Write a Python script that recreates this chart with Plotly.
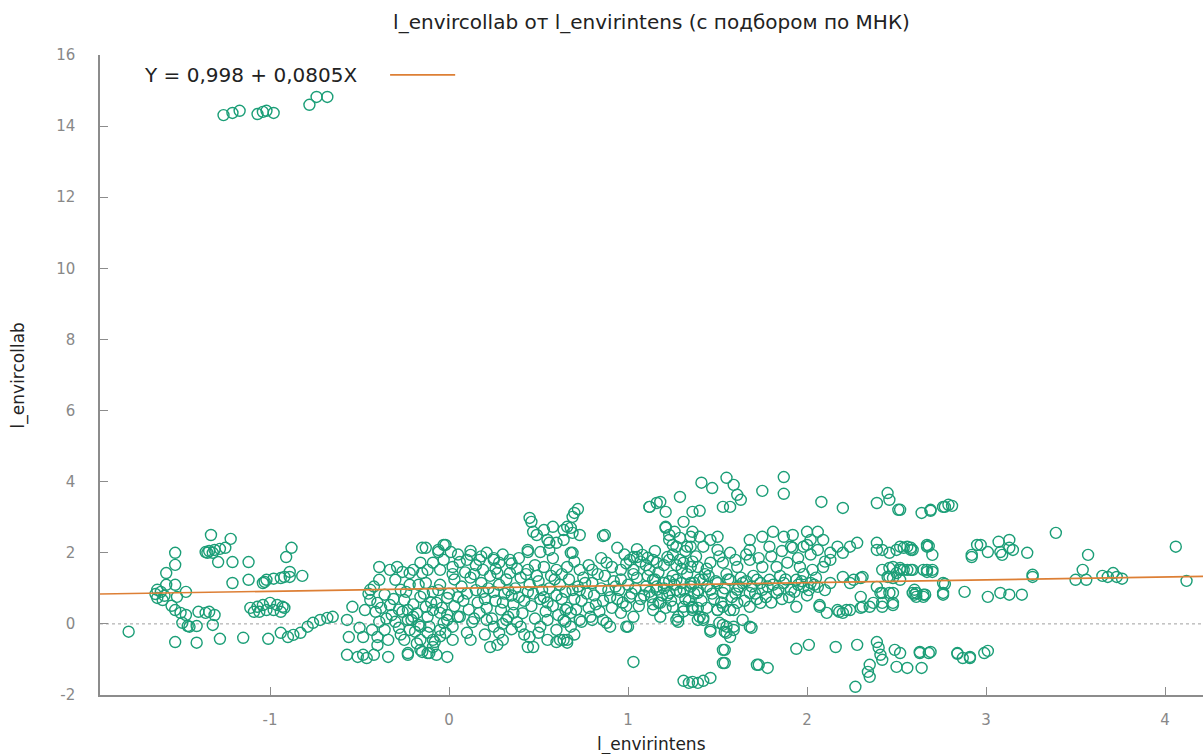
import plotly.graph_objects as go

# ---------------- data ----------------
title_text = "l_envircollab от l_envirintens (с подбором по МНК)"
x_title = "l_envirintens"
y_title = "l_envircollab"
fit_intercept = 0.998
fit_slope = 0.0805
fit_label = "Y = 0,998 + 0,0805X"
fit_x = [-1.95, 4.212]
x_ticks = [-1, 0, 1, 2, 3, 4]
x_tick_labels = ["-1", "0", "1", "2", "3", "4"]
y_ticks = [-2, 0, 2, 4, 6, 8, 10, 12, 14, 16]
y_tick_labels = ["-2", "0", "2", "4", "6", "8", "10", "12", "14", "16"]

top_outliers = [
    (-1.26, 14.31), (-1.21, 14.37), (-1.17, 14.43), (-1.07, 14.34), (-1.04, 14.40),
    (-1.02, 14.43), (-0.98, 14.37), (-0.78, 14.60), (-0.74, 14.82), (-0.68, 14.82),
]

left_group = [
    (-1.79, -0.22), (-1.64, 0.84), (-1.63, 0.73), (-1.61, 0.90), (-1.60, 0.67), (-1.63, 0.96),
    (-1.59, 0.79), (-1.58, 1.10), (-1.53, 1.10), (-1.52, 0.76), (-1.47, 0.90), (-1.58, 1.43),
    (-1.53, 1.66), (-1.53, 2.00), (-1.55, 0.51), (-1.53, 0.39), (-1.50, 0.31), (-1.47, 0.25),
    (-1.49, 0.03), (-1.46, -0.06), (-1.45, -0.08), (-1.41, -0.06), (-1.40, 0.34), (-1.36, 0.31),
    (-1.34, 0.34), (-1.31, 0.25), (-1.32, -0.03), (-1.53, -0.51), (-1.41, -0.53), (-1.28, -0.42),
    (-1.15, -0.39), (-1.33, 2.50), (-1.22, 2.39), (-1.36, 2.02), (-1.34, 2.05), (-1.31, 2.08),
    (-1.28, 2.11), (-1.25, 2.14), (-1.35, 2.00), (-1.32, 2.00), (-1.29, 1.74), (-1.21, 1.74),
    (-1.12, 1.74), (-1.21, 1.15), (-1.12, 1.24), (-1.04, 1.15), (-1.02, 1.24), (-0.98, 1.27),
    (-0.94, 1.29), (-0.92, 1.32), (-0.89, 1.32), (-0.89, 1.46), (-0.82, 1.35), (-0.91, 1.88),
    (-0.88, 2.14), (-1.03, 1.18), (-1.11, 0.45), (-1.07, 0.48), (-1.04, 0.53), (-1.00, 0.59),
    (-0.96, 0.53), (-0.93, 0.48), (-1.09, 0.34), (-1.06, 0.34), (-1.02, 0.39), (-0.98, 0.39),
    (-0.94, 0.34), (-0.92, 0.45), (-1.01, -0.42), (-0.94, -0.25), (-0.90, -0.37), (-0.87, -0.31),
    (-0.83, -0.25), (-0.79, -0.08), (-0.76, 0.03), (-0.72, 0.11), (-0.68, 0.17), (-0.65, 0.20),
    (-0.57, 0.11), (-0.54, 0.48), (-0.56, -0.37), (-0.48, -0.37), (-0.40, -0.37), (-0.57, -0.87),
    (-0.51, -0.93), (-0.48, -0.87), (-0.46, -0.96), (-0.42, -0.87), (-0.34, -0.93), (-0.23, -0.87),
    (-0.15, -0.79), (-0.11, -0.82), (-0.07, -0.87), (-0.39, 1.60), (-0.33, 1.52), (-0.29, 1.60),
    (-0.26, 1.46), (-0.22, 1.43), (-0.15, 1.43), (-0.13, 2.14), (-0.06, 2.08), (-0.03, 2.22),
    (-0.03, 1.80), (-0.44, 0.96), (-0.44, 0.67), (-0.41, 0.34), (-0.39, 0.06), (-0.36, 0.82),
    (-0.33, 0.53), (-0.32, 0.25), (-0.28, -0.11), (-0.27, 0.96), (-0.25, 0.67), (-0.23, 0.39),
    (-0.21, 0.11), (-0.19, -0.22), (-0.17, 1.10), (-0.16, 0.76), (-0.13, 0.48), (-0.12, 0.20),
    (-0.11, -0.08), (-0.09, 0.90), (-0.07, 0.59), (-0.05, 0.31), (-0.03, 0.03), (-0.02, -0.25),
    (-0.01, 0.73), (-0.39, 1.24), (-0.30, 1.24), (-0.22, 1.10), (-0.13, 1.15), (-0.05, 1.10),
    (-0.43, -0.17), (-0.34, -0.45), (-0.25, -0.45), (-0.16, -0.45), (-0.08, -0.51), (0.02, -0.45),
    (-0.47, 0.39), (-0.40, 0.59), (-0.30, 0.06), (-0.26, 0.34), (-0.17, -0.03), (-0.09, 0.39),
    (-0.01, 0.25), (-0.36, -0.17), (-0.22, -0.17), (-0.50, -0.11),
]

center_group = [
    (0.46, 2.87), (0.53, 2.64), (0.58, 2.73), (0.66, 2.73), (0.69, 2.56), (0.73, 2.50),
    (0.49, 2.50), (0.55, 2.36), (0.60, 2.28), (0.64, 2.36), (0.44, 2.02), (0.51, 2.02),
    (0.56, 2.08), (0.69, 2.00), (0.87, 2.50), (0.94, 2.14), (-0.15, 2.14), (-0.02, 2.22),
    (0.01, 2.02), (-0.06, 2.02), (1.21, 2.73), (1.31, 2.87), (1.23, 2.50), (1.29, 2.42),
    (1.35, 2.45), (1.25, 2.22), (1.33, 2.17), (0.45, 2.98), (0.72, 3.23), (0.70, 3.12),
    (0.69, 3.01), (1.12, 3.29), (1.16, 3.40), (0.86, 2.47), (0.68, 2.00), (0.64, 2.64),
    (0.68, 2.70), (0.47, 2.59), (0.56, 2.28), (0.44, 2.08), (0.10, 1.80), (0.17, 1.80),
    (0.34, 1.80), (0.28, 1.72), (1.05, 1.88), (1.11, 1.86), (1.01, 1.80),
    (0.12, 1.94), (0.21, 2.00), (0.25, 1.80), (0.06, 1.74), (0.02, 1.60), (-0.05, 1.52),
    (-0.12, 1.52), (-0.20, 1.52), (-0.16, 1.72), (-0.09, 1.72), (0.19, 1.52), (0.27, 1.43),
    (0.34, 1.43), (0.44, 1.52), (0.53, 1.60), (0.60, 1.52), (0.66, 1.60), (0.73, 1.52),
    (0.80, 1.52), (0.88, 1.72), (0.96, 1.52), (1.03, 1.88), (1.08, 1.94), (1.14, 1.80),
    (1.22, 1.88), (1.29, 1.80), (1.35, 1.60), (1.03, 1.52), (1.12, 1.52),
    (0.03, 1.25), (0.07, 1.05), (0.10, 0.85), (0.12, 1.30), (0.15, 0.95), (0.18, 1.15),
    (0.20, 0.70), (0.23, 1.35), (0.25, 0.90), (0.28, 1.10), (0.30, 0.60), (0.32, 1.25),
    (0.35, 0.80), (0.37, 1.00), (0.40, 1.30), (0.42, 0.65), (0.45, 1.10), (0.47, 0.85),
    (0.50, 1.20), (0.52, 0.95), (0.55, 0.60), (0.57, 1.35), (0.60, 0.80), (0.62, 1.10),
    (0.65, 0.90), (0.67, 1.25), (0.70, 0.70), (0.72, 1.05), (0.75, 1.30), (0.77, 0.85),
    (0.80, 1.15), (0.82, 0.55), (0.85, 1.00), (0.87, 1.35), (0.90, 0.75), (0.92, 1.20),
    (0.95, 0.95), (0.97, 0.60), (1.00, 1.10), (1.02, 0.85), (1.05, 1.30), (1.07, 0.70),
    (1.10, 1.05), (1.12, 0.90), (1.15, 1.25), (1.17, 0.60), (1.20, 1.00), (1.22, 0.80),
    (1.25, 1.35), (1.27, 0.95), (1.30, 1.15), (1.32, 0.70), (1.35, 1.05), (1.37, 0.85),
    (1.40, 1.25), (0.05, 0.75), (0.14, 1.40), (0.22, 1.00), (0.33, 0.95), (0.43, 1.40),
    (0.53, 0.75), (0.63, 1.40), (0.73, 0.95), (0.83, 1.40), (0.93, 1.05), (1.03, 1.40),
    (1.13, 0.75), (1.23, 1.20), (1.33, 1.40),
    (-0.23, 0.11), (-0.20, 0.20), (-0.16, -0.08), (-0.12, -0.25), (-0.09, -0.45), (-0.05, -0.17),
    (-0.01, 0.11), (0.02, -0.08), (0.06, 0.20), (0.10, -0.25), (0.17, 0.31), (0.21, 0.11),
    (0.25, -0.08), (0.28, -0.25), (0.32, 0.11), (0.36, 0.31), (0.40, -0.08), (0.45, -0.37),
    (0.51, -0.08), (0.55, 0.11), (0.60, -0.17), (0.64, 0.11), (0.68, 0.31), (0.73, 0.11),
    (0.79, 0.20), (0.86, 0.11), (0.90, -0.08), (0.99, -0.08), (1.03, 0.20), (0.96, 0.31),
    (1.14, 0.39), (1.18, 0.20), (1.27, 0.11), (1.36, 0.39), (1.39, 0.11),
    (-0.23, -0.82), (-0.16, -0.73), (-0.12, -0.82), (-0.09, -0.65), (-0.01, -0.93), (0.23, -0.65),
    (0.27, -0.59), (0.44, -0.65), (0.47, -0.65), (0.60, -0.51), (0.64, -0.45), (0.66, -0.53),
    (1.03, -1.07), (0.65, 0.39), (0.65, 0.06), (0.68, -0.08), (0.66, -0.45), (0.62, -0.45),
    (0.74, 0.06), (0.80, 0.11), (0.88, 0.03), (1.00, -0.08), (1.28, 0.20), (1.28, 0.06),
    (1.36, 0.45), (1.42, 0.17), (1.46, -0.17), (1.53, -0.03), (1.54, -0.22), (1.59, -0.08),
    (1.69, -0.11), (1.53, -0.73), (1.53, -1.10), (1.72, -1.15), (1.39, 0.45), (1.44, 0.45),
    (1.50, 0.39), (1.57, 0.39), (1.64, 0.11),
    (1.31, -1.60), (1.34, -1.66), (1.36, -1.63), (1.39, -1.66), (1.42, -1.60), (1.46, -1.52),
    (0.05, 1.95), (0.12, 2.05), (0.18, 1.90), (0.25, 1.85), (0.30, 1.95), (0.35, 1.70),
    (0.38, 1.55), (0.98, 1.95), (1.05, 2.10), (1.15, 2.05), (1.25, 1.95), (1.32, 2.05),
    (1.38, 1.90), (1.10, 1.65), (1.20, 1.65), (1.30, 1.55),
]

center_dense = [
    (-0.45, 0.85), (-0.42, 1.05), (-0.38, 0.45), (-0.35, 0.15), (-0.31, 0.70), (-0.28, 0.40),
    (-0.24, 0.90), (-0.20, 0.55), (-0.18, 0.30), (-0.14, 0.85), (-0.10, 0.60), (-0.06, 0.95),
    (-0.04, 0.45), (0.00, 0.85), (0.03, 0.50), (0.05, 0.20), (0.08, 0.65), (0.09, 1.45),
    (0.11, 0.40), (0.13, 0.05), (0.16, 0.60), (0.19, 0.90), (0.21, 0.45), (0.24, 0.15),
    (0.26, 0.65), (0.29, 0.40), (0.31, 0.85), (0.33, 0.20), (0.36, 0.55), (0.38, 0.05),
    (0.39, 0.75), (0.41, 0.30), (0.44, 0.90), (0.46, 0.50), (0.48, 0.15), (0.49, 1.35),
    (0.51, 0.70), (0.54, 0.35), (0.56, 1.00), (0.58, 0.50), (0.59, 1.25), (0.61, 0.25),
    (0.63, 0.70), (0.66, 0.45), (0.69, 0.95), (0.71, 0.40), (0.74, 0.65), (0.76, 1.15),
    (0.78, 0.45), (0.81, 0.80), (0.84, 0.35), (0.86, 0.65), (0.89, 0.95), (0.91, 0.45),
    (0.94, 0.70), (0.96, 1.25), (0.99, 0.50), (1.01, 0.75), (1.04, 1.00), (1.06, 0.50),
    (1.09, 0.80), (1.11, 1.35), (1.14, 0.55), (1.16, 1.05), (1.19, 0.80), (1.21, 0.45),
    (1.24, 0.65), (1.26, 1.10), (1.29, 0.90), (1.31, 0.35), (1.34, 0.65), (1.37, 1.15),
    (1.39, 0.95), (1.41, 0.65), (1.43, 1.40), (1.47, 0.85), (1.49, 1.20), (1.52, 0.60),
    (1.54, 1.00), (1.56, 1.25), (1.60, 0.85), (1.63, 1.30), (1.65, 0.65), (1.69, 1.05),
    (1.71, 0.85), (1.74, 1.15), (1.77, 0.75), (1.81, 1.10), (1.84, 0.95), (1.86, 0.70),
    (1.93, 0.90), (1.97, 1.20), (2.01, 0.95), (2.04, 1.10),
    (0.02, 1.40), (0.15, 1.65), (0.26, 1.55), (0.39, 1.85), (0.48, 1.65), (0.58, 1.85),
    (0.70, 1.75), (0.78, 1.65), (0.85, 1.85), (0.91, 1.60), (0.99, 1.70), (1.07, 1.75),
    (1.17, 1.45), (1.27, 1.65), (1.36, 1.75), (1.44, 1.55), (1.51, 1.90), (1.60, 1.80),
    (1.66, 1.95), (1.73, 1.85), (1.80, 1.90), (1.86, 2.05), (1.95, 1.85), (2.02, 1.95),
    (2.10, 1.75),
    (0.12, -0.45), (0.20, -0.30), (0.30, -0.45), (0.35, -0.15), (0.42, -0.30), (0.50, -0.25),
    (0.55, -0.45), (0.70, -0.30), (0.30, 0.00), (0.14, 0.15), (-0.05, -0.35), (-0.18, -0.55),
    (-0.27, -0.30), (-0.40, -0.60),
]

right_group = [
    (1.87, 4.13), (1.87, 3.66), (1.55, 4.11), (1.59, 3.91), (1.41, 3.97), (1.47, 3.82),
    (1.61, 3.63), (1.63, 3.49), (1.75, 3.74), (1.53, 3.29), (1.57, 3.29), (1.36, 3.15),
    (1.40, 3.18), (1.29, 3.57), (1.18, 3.43), (1.12, 3.29), (1.21, 3.15), (1.21, 2.70),
    (1.26, 2.59), (2.08, 3.43), (2.20, 3.26), (2.39, 3.40), (2.45, 3.68), (2.46, 3.49),
    (2.51, 3.21), (2.64, 3.12), (2.69, 3.21), (2.76, 3.29), (2.79, 3.35),
    (1.36, 2.59), (1.40, 2.45), (1.46, 2.36), (1.50, 2.45), (1.23, 2.36), (1.27, 2.17),
    (1.35, 2.17), (1.42, 2.17), (1.50, 2.08), (1.57, 2.00), (1.68, 2.36), (1.75, 2.45),
    (1.81, 2.59), (1.87, 2.45), (1.92, 2.50), (2.00, 2.59), (2.06, 2.59), (2.02, 2.36),
    (2.09, 2.36), (2.17, 2.17), (2.24, 2.17), (2.28, 2.28), (1.68, 2.08), (1.79, 2.17),
    (1.91, 2.17), (1.98, 2.17), (2.06, 2.08), (2.13, 2.00), (2.20, 2.00), (2.42, 2.08),
    (2.50, 2.08), (2.56, 2.17), (2.59, 2.08), (2.67, 2.17), (2.70, 1.94), (2.39, 2.28),
    (1.16, 1.72), (1.23, 1.80), (1.31, 1.72), (1.39, 1.60), (1.46, 1.72), (1.53, 1.72),
    (1.61, 1.60), (1.68, 1.80), (1.75, 1.60), (1.83, 1.60), (1.89, 1.72), (1.96, 1.60),
    (2.03, 1.52), (2.09, 1.60), (2.13, 1.80), (2.20, 1.32), (2.26, 1.24), (2.31, 1.32),
    (2.42, 1.52), (2.48, 1.60), (2.54, 1.52), (2.59, 1.52), (2.65, 1.52), (2.70, 1.46),
    (2.46, 1.32), (2.50, 1.43),
    (1.14, 1.24), (1.20, 1.15), (1.27, 1.24), (1.35, 1.15), (1.42, 1.24), (1.50, 1.15),
    (1.57, 1.24), (1.64, 1.15), (1.72, 1.24), (1.79, 1.24), (1.87, 1.15), (1.94, 1.24),
    (2.02, 1.15), (1.16, 0.96), (1.23, 0.87), (1.31, 0.96), (1.39, 0.87), (1.46, 0.96),
    (1.53, 0.87), (1.61, 0.96), (1.68, 0.87), (1.75, 0.96), (1.83, 0.87), (1.91, 0.96),
    (1.98, 1.04), (2.06, 1.04), (2.13, 1.15), (2.24, 1.15), (2.39, 1.04), (2.42, 0.87),
    (2.48, 0.87), (2.61, 0.87), (2.65, 0.76), (2.76, 0.87),
    (1.18, 0.59), (1.25, 0.48), (1.31, 0.48), (1.36, 0.48), (1.40, 0.20), (1.42, 0.11),
    (1.50, 0.39), (1.53, 0.48), (1.59, 0.39), (1.61, 0.59), (1.68, 0.48), (1.74, 0.59),
    (1.94, 0.48), (2.07, 0.53), (2.11, 0.31), (2.17, 0.39), (2.20, 0.31), (2.24, 0.39),
    (2.31, 0.48), (2.37, 0.59), (2.42, 0.59), (2.48, 0.59), (1.51, 0.03), (1.55, -0.08),
    (1.68, -0.08), (1.46, -0.22), (1.55, -0.25), (1.59, -0.17), (1.57, -0.37),
    (1.54, -0.73), (1.54, -1.10), (1.94, -0.70), (2.01, -0.59), (2.16, -0.65), (2.28, -0.59),
    (2.39, -0.51), (2.40, -0.67), (2.41, -0.87), (2.42, -1.01), (2.35, -1.15), (2.34, -1.35),
    (2.35, -1.49), (2.27, -1.77), (2.49, -0.73), (2.50, -1.21), (2.56, -1.24), (2.64, -1.24),
    (2.63, -0.79), (2.69, -0.79), (2.84, -0.82), (2.87, -0.96), (2.91, -0.93), (1.73, -1.15),
    (1.78, -1.24), (2.99, -0.82), (3.01, -0.76), (2.52, -0.82), (2.68, -0.82),
    (2.67, 2.22), (2.92, 1.94), (2.95, 2.22), (1.92, 2.14), (2.00, 2.22), (2.39, 2.08),
    (2.46, 2.00), (2.54, 2.14), (2.58, 2.08), (2.46, 1.57), (2.52, 1.57), (2.58, 1.52),
    (2.67, 1.46), (2.45, 1.32), (2.48, 1.29), (2.76, 1.15), (2.88, 0.90), (2.76, 0.82),
    (2.59, 0.87), (2.61, 0.76), (2.65, 0.82), (2.41, 0.87), (2.46, 0.87), (2.42, 0.48),
    (2.48, 0.53), (2.35, 0.48), (2.30, 0.45), (2.22, 0.39), (2.18, 0.34), (2.07, 0.48),
    (2.30, 0.76), (2.30, 1.29),
    (2.52, 3.21), (2.69, 3.18), (2.77, 3.29), (2.81, 3.32), (2.52, 2.17), (2.58, 2.14),
    (2.68, 2.19), (2.52, 1.52), (2.56, 1.52), (2.67, 1.52), (2.70, 1.52), (2.52, 1.24),
    (2.77, 1.12), (2.60, 0.96), (2.60, 0.82), (2.66, 0.82), (3.01, 0.76), (3.08, 0.87),
    (3.13, 0.82), (3.20, 0.82), (2.92, 1.88), (2.97, 2.22), (3.01, 2.02), (3.07, 2.31),
    (3.08, 2.02), (3.09, 1.94), (3.13, 2.36), (3.13, 2.14), (3.15, 2.08), (3.23, 2.00),
    (3.39, 2.56), (3.26, 1.38), (3.26, 1.32), (3.50, 1.24), (3.54, 1.52), (3.56, 1.24),
    (3.57, 1.94), (3.65, 1.35), (3.68, 1.32), (3.71, 1.43), (3.73, 1.32), (3.76, 1.27),
    (4.06, 2.17), (4.12, 1.21), (2.63, -0.82), (2.84, -0.84), (2.91, -0.96),
    (1.45, 1.35), (1.55, 1.40), (1.62, 1.05), (1.70, 1.35), (1.78, 1.05), (1.85, 1.35),
    (1.95, 1.10), (2.05, 1.30), (1.48, 0.70), (1.58, 0.75), (1.72, 0.70), (1.80, 0.60),
    (1.90, 0.75), (2.00, 0.80), (2.10, 0.95), (1.44, 1.05), (1.66, 1.20), (1.88, 1.25),
    (1.98, 1.40),
]

# ---------------- figure ----------------
all_pts = top_outliers + left_group + center_group + center_dense + right_group
px_vals = [p[0] for p in all_pts]
py_vals = [p[1] for p in all_pts]

GREEN = "#1b9e77"
ORANGE = "#dd7f35"
AXIS = "#8c8c8c"
FONT = "DejaVu Sans"

fig = go.Figure()
fig.add_trace(go.Scatter(
    x=px_vals, y=py_vals, mode="markers",
    marker=dict(symbol="circle-open", size=11, color=GREEN, line=dict(width=1.4, color=GREEN)),
    hoverinfo="skip",
))
fit_y = [fit_intercept + fit_slope * v for v in fit_x]
fig.add_trace(go.Scatter(
    x=fit_x, y=fit_y, mode="lines",
    line=dict(color=ORANGE, width=1.7), hoverinfo="skip",
))

# dotted zero line
fig.add_shape(type="line", xref="paper", x0=0, x1=1, yref="y", y0=0, y1=0,
              line=dict(color="#a0a0a0", width=1, dash="dot"), layer="below")

# legend (text + sample line)
fig.add_annotation(text=fit_label, xref="paper", yref="paper", x=0.038, y=0.969,
                   xanchor="left", yanchor="middle", showarrow=False,
                   font=dict(family=FONT, size=20, color="#222"))
fig.add_shape(type="line", xref="paper", yref="paper", x0=0.263, x1=0.322, y0=0.969, y1=0.969,
              line=dict(color=ORANGE, width=1.6))

# axis titles
fig.add_annotation(text=x_title, xref="paper", yref="paper", x=0.5, y=-0.078,
                   xanchor="center", yanchor="middle", showarrow=False,
                   font=dict(family=FONT, size=17, color="#222"))
fig.add_annotation(text=y_title, xref="paper", yref="paper", x=-0.074, y=0.5,
                   xanchor="center", yanchor="middle", showarrow=False, textangle=-90,
                   font=dict(family=FONT, size=17, color="#222"))

fig.update_layout(
    width=1203, height=754,
    margin=dict(l=100, r=0, t=55, b=59),
    paper_bgcolor="white", plot_bgcolor="white",
    showlegend=False,
    title=dict(text=title_text, x=0.5, xref="paper", y=1 - 22 / 754, yref="container",
               xanchor="center", yanchor="middle",
               font=dict(family=FONT, size=20, color="#222")),
    xaxis=dict(range=fit_x, tickvals=x_ticks, ticktext=x_tick_labels, ticks="inside",
               ticklen=8, tickwidth=1.2,
               tickcolor=AXIS, showline=True, linecolor=AXIS, linewidth=1.5,
               showgrid=False, zeroline=False, ticklabelstandoff=10,
               tickfont=dict(family=FONT, size=15, color="#888")),
    yaxis=dict(range=[-2, 16], tickvals=y_ticks, ticktext=y_tick_labels, ticks="inside",
               ticklen=8, tickwidth=1.2,
               tickcolor=AXIS, showline=True, linecolor=AXIS, linewidth=1.5,
               showgrid=False, zeroline=False, ticklabelstandoff=20,
               tickfont=dict(family=FONT, size=15, color="#888")),
)

fig.write_html("out.html", config={"displayModeBar": False},
               post_script="document.body.style.margin='0';document.body.style.overflow='hidden';")
